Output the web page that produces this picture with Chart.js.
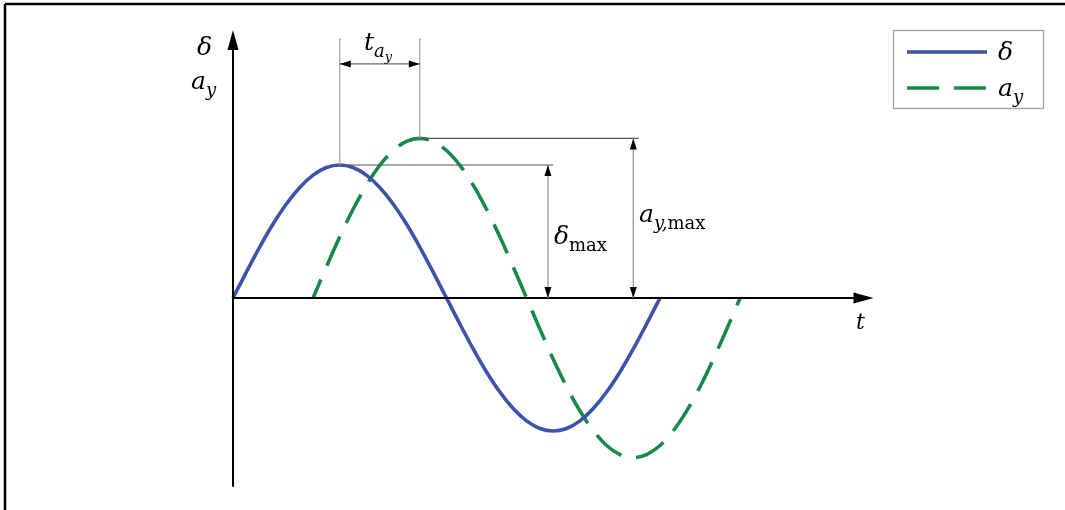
<!DOCTYPE html>
<html>
<head>
<meta charset="utf-8">
<script src="https://cdn.jsdelivr.net/npm/chart.js@4/dist/chart.umd.min.js"></script>
<style>
  html, body { margin: 0; padding: 0; background: #fff; overflow: hidden; }
  canvas { display: block; }
</style>
</head>
<body>
<canvas id="c" width="1065" height="510"></canvas>
<script>
// Time samples (quarter-period units) and steering angle δ
const tDelta = [0, 0.125, 0.25, 0.375, 0.5, 0.625, 0.75, 0.875, 1,
                1.125, 1.25, 1.375, 1.5, 1.625, 1.75, 1.875, 2,
                2.125, 2.25, 2.375, 2.5, 2.625, 2.75, 2.875, 3,
                3.125, 3.25, 3.375, 3.5, 3.625, 3.75, 3.875, 4];
const delta  = [0, 0.195, 0.383, 0.556, 0.707, 0.831, 0.924, 0.981, 1,
                0.981, 0.924, 0.831, 0.707, 0.556, 0.383, 0.195, 0,
                -0.195, -0.383, -0.556, -0.707, -0.831, -0.924, -0.981, -1,
                -0.981, -0.924, -0.831, -0.707, -0.556, -0.383, -0.195, 0];

// Lateral acceleration a_y, lagging behind δ
const tAy = [0.75, 0.875, 1, 1.125, 1.25, 1.375, 1.5, 1.625, 1.75,
             1.875, 2, 2.125, 2.25, 2.375, 2.5, 2.625, 2.75,
             2.875, 3, 3.125, 3.25, 3.375, 3.5, 3.625, 3.75,
             3.875, 4, 4.125, 4.25, 4.375, 4.5, 4.625, 4.75];
const ay  = [0, 0.234, 0.46, 0.667, 0.849, 0.998, 1.109, 1.177, 1.2,
             1.177, 1.109, 0.998, 0.849, 0.667, 0.46, 0.234, 0,
             -0.234, -0.46, -0.667, -0.849, -0.998, -1.109, -1.177, -1.2,
             -1.177, -1.109, -0.998, -0.849, -0.667, -0.46, -0.234, 0];

// Series names ("_" marks a subscript)
const seriesNames = ['δ', 'a_y'];

const BLUE = '#3d53a8';
const GREEN = '#188a47';
const SERIF = '"DejaVu Serif", "Liberation Serif", serif';

// Draws simple math text: parts = [{t, it, lvl}] where lvl is the subscript depth
function mathText(ctx, parts, x, y, size) {
  let cx = x;
  for (const p of parts) {
    const lvl = p.lvl || 0;
    const s = size * Math.pow(0.72, lvl);
    let dy = 0;
    if (lvl >= 1) dy += size * 0.28;
    if (lvl >= 2) dy += size * 0.16;
    ctx.font = (p.it ? 'italic ' : '') + s + 'px ' + SERIF;
    ctx.textBaseline = 'alphabetic';
    ctx.textAlign = 'left';
    ctx.fillText(p.t, cx, y + dy);
    cx += ctx.measureText(p.t).width;
  }
  return cx - x;
}
function parseName(name) {
  const [base, sub] = name.split('_');
  const parts = [{ t: base, it: true }];
  if (sub) parts.push({ t: sub, it: true, lvl: 1 });
  return parts;
}
function arrowHead(ctx, x, y, ang, len, half) {
  ctx.save();
  ctx.translate(x, y);
  ctx.rotate(ang);
  ctx.beginPath();
  ctx.moveTo(0, 0);
  ctx.lineTo(-len, -half);
  ctx.lineTo(-len, half);
  ctx.closePath();
  ctx.fill();
  ctx.restore();
}
function line(ctx, x1, y1, x2, y2) {
  ctx.beginPath();
  ctx.moveTo(x1, y1);
  ctx.lineTo(x2, y2);
  ctx.stroke();
}

const figure = {
  id: 'figure',
  beforeDraw(chart) {
    const ctx = chart.ctx;
    ctx.save();
    ctx.fillStyle = '#fff';
    ctx.fillRect(0, 0, chart.width, chart.height);
    ctx.strokeStyle = '#000';
    ctx.lineWidth = 2.5;
    line(ctx, 5, 510, 5, 4);
    line(ctx, 5, 4, 1065, 4);
    ctx.restore();
  },
  afterDatasetsDraw(chart) {
    const ctx = chart.ctx;
    const xs = chart.scales.x, ys = chart.scales.y;
    const X = v => xs.getPixelForValue(v), Y = v => ys.getPixelForValue(v);
    const x0 = X(0), y0 = Y(0);

    const iD = delta.indexOf(Math.max(...delta));
    const iA = ay.indexOf(Math.max(...ay));
    const dT = tDelta[iD], dV = delta[iD];
    const aT = tAy[iA], aV = ay[iA];

    ctx.save();
    // Axes with arrow tips
    ctx.strokeStyle = '#000';
    ctx.fillStyle = '#000';
    ctx.lineWidth = 2;
    line(ctx, x0, Y(-1.42), x0, Y(2.0) + 4);
    arrowHead(ctx, x0, Y(2.015), -Math.PI / 2, 20, 5.5);
    line(ctx, x0, y0, X(6.0) - 4, y0);
    arrowHead(ctx, X(6.0), y0, 0, 20, 5.5);

    // Extension lines for the lag dimension
    ctx.strokeStyle = '#a8a8a8';
    ctx.lineWidth = 1.3;
    line(ctx, X(dT), Y(dV), X(dT), Y(1.955));
    line(ctx, X(aT), Y(aV), X(aT), Y(1.955));

    // Lag dimension line
    ctx.strokeStyle = '#444';
    ctx.lineWidth = 1;
    const yT = Y(1.76);
    line(ctx, X(dT), yT, X(aT), yT);
    arrowHead(ctx, X(dT), yT, Math.PI, 11, 3.5);
    arrowHead(ctx, X(aT), yT, 0, 11, 3.5);

    // Peak reference lines
    ctx.strokeStyle = '#555';
    ctx.lineWidth = 1.1;
    line(ctx, X(dT), Y(dV), X(3.0), Y(dV));
    line(ctx, X(aT), Y(aV), X(3.8), Y(aV));

    // Amplitude dimension arrows
    ctx.strokeStyle = '#9a9a9a';
    ctx.lineWidth = 1.3;
    for (const [tx, v] of [[2.95, dV], [3.75, aV]]) {
      line(ctx, X(tx), Y(v), X(tx), y0);
      arrowHead(ctx, X(tx), Y(v), -Math.PI / 2, 11, 3.5);
      arrowHead(ctx, X(tx), y0, Math.PI / 2, 11, 3.5);
    }

    // Labels
    ctx.fillStyle = '#000';
    mathText(ctx, [{ t: 'δ', it: true }], 197, 55, 25);
    mathText(ctx, [{ t: 'a', it: true }, { t: 'y', it: true, lvl: 1 }], 191, 89, 25);
    mathText(ctx, [{ t: 't', it: true }], 856, 329, 22);
    mathText(ctx, [{ t: 't', it: true }, { t: 'a', it: true, lvl: 1 }, { t: 'y', it: true, lvl: 2 }], 364, 50, 25);
    mathText(ctx, [{ t: 'δ', it: true }, { t: 'max', lvl: 1 }], 554, 244, 25);
    mathText(ctx, [{ t: 'a', it: true }, { t: 'y,', it: true, lvl: 1 }, { t: 'max', lvl: 1 }], 639, 222, 25);

    // Legend
    ctx.strokeStyle = '#a0a0a0';
    ctx.lineWidth = 1.3;
    ctx.strokeRect(893.5, 30.5, 150, 78);
    chart.data.datasets.forEach((ds, i) => {
      const yy = 52 + i * 36;
      ctx.strokeStyle = ds.borderColor;
      ctx.lineWidth = 3.5;
      ctx.setLineDash(ds.borderDash || []);
      line(ctx, 907, yy, 987, yy);
      ctx.setLineDash([]);
      ctx.fillStyle = '#000';
      mathText(ctx, parseName(ds.label), 998, yy + 8, 25);
    });
    ctx.restore();
  }
};

const toPts = (ts, vs) => ts.map((t, i) => ({ x: t, y: vs[i] }));

new Chart(document.getElementById('c'), {
  type: 'line',
  data: {
    datasets: [
      {
        label: seriesNames[0],
        data: toPts(tDelta, delta),
        borderColor: BLUE,
        borderWidth: 3.6,
        pointRadius: 0,
        cubicInterpolationMode: 'monotone',
        fill: false,
        clip: false
      },
      {
        label: seriesNames[1],
        data: toPts(tAy, ay),
        borderColor: GREEN,
        borderWidth: 3.6,
        borderDash: [32, 15],
        borderDashOffset: 12,
        pointRadius: 0,
        cubicInterpolationMode: 'monotone',
        fill: false,
        clip: false
      }
    ]
  },
  options: {
    responsive: false,
    devicePixelRatio: 1,
    animation: false,
    layout: { padding: 0 },
    plugins: { legend: { display: false }, tooltip: { enabled: false } },
    scales: {
      x: { type: 'linear', min: -2.1827, max: 7.794, display: false },
      y: { type: 'linear', min: -1.594, max: 2.2406, display: false }
    }
  },
  plugins: [figure]
});
</script>
</body>
</html>
